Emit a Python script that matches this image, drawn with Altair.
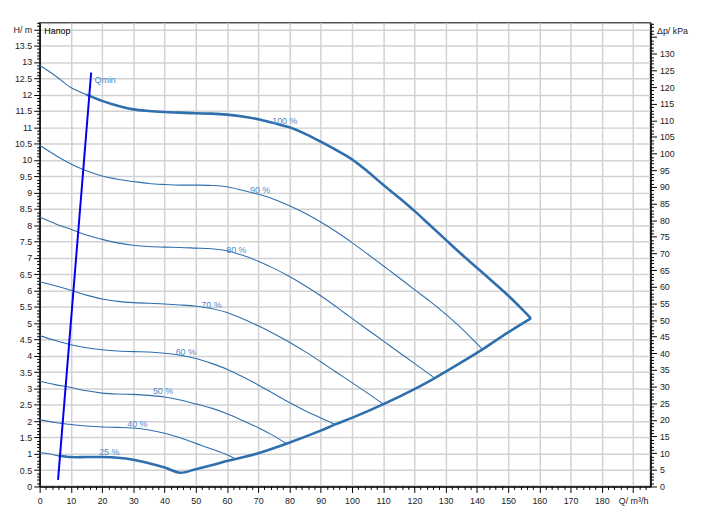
import altair as alt
import pandas as pd

# ---------------- data ----------------
Q100 = [0, 5, 10, 15, 20, 25, 30, 35, 40, 45, 50, 55, 60, 65, 70, 75, 80, 85, 90, 95, 100, 105, 110, 115, 120, 125, 130, 135, 140, 145, 150, 155, 157.3]
H100 = [12.9, 12.58, 12.22, 12.0, 11.81, 11.66, 11.55, 11.5, 11.47, 11.45, 11.43, 11.42, 11.39, 11.33, 11.25, 11.13, 11.0, 10.8, 10.56, 10.3, 10.02, 9.65, 9.24, 8.85, 8.44, 8.0, 7.56, 7.12, 6.7, 6.28, 5.85, 5.38, 5.15]

Q90 = [0, 5, 10, 15, 20, 25, 30, 35, 40, 45, 50, 55, 60, 65, 70, 75, 80, 85, 90, 95, 100, 105, 110, 115, 120, 125, 130, 135, 141.8]
H90 = [10.45, 10.15, 9.88, 9.67, 9.51, 9.41, 9.34, 9.28, 9.25, 9.23, 9.23, 9.22, 9.18, 9.07, 8.95, 8.8, 8.6, 8.37, 8.1, 7.8, 7.47, 7.12, 6.76, 6.4, 6.03, 5.67, 5.28, 4.85, 4.2]

Q80 = [0, 5, 10, 15, 20, 25, 30, 35, 40, 45, 50, 55, 60, 65, 70, 75, 80, 85, 90, 95, 100, 105, 110, 115, 120, 126.5]
H80 = [8.25, 8.05, 7.88, 7.7, 7.57, 7.46, 7.39, 7.35, 7.33, 7.32, 7.3, 7.28, 7.22, 7.08, 6.9, 6.68, 6.43, 6.15, 5.84, 5.5, 5.15, 4.8, 4.46, 4.11, 3.77, 3.32]

Q70 = [0, 5, 10, 15, 20, 25, 30, 35, 40, 45, 50, 55, 60, 65, 70, 75, 80, 85, 90, 95, 100, 105, 110.1]
H70 = [6.27, 6.15, 6.01, 5.86, 5.74, 5.67, 5.63, 5.61, 5.59, 5.56, 5.52, 5.45, 5.33, 5.14, 4.92, 4.68, 4.42, 4.13, 3.82, 3.5, 3.18, 2.86, 2.52]

Q60 = [0, 5, 10, 15, 20, 25, 30, 35, 40, 45, 50, 55, 60, 65, 70, 75, 80, 85, 90, 94.6]
H60 = [4.62, 4.47, 4.34, 4.25, 4.19, 4.15, 4.13, 4.12, 4.08, 4.02, 3.92, 3.77, 3.59, 3.36, 3.11, 2.84, 2.57, 2.32, 2.1, 1.9]

Q50 = [0, 5, 10, 15, 20, 25, 30, 35, 40, 45, 50, 55, 60, 65, 70, 75, 79]
H50 = [3.22, 3.12, 3.03, 2.93, 2.86, 2.83, 2.82, 2.79, 2.74, 2.65, 2.53, 2.4, 2.23, 2.02, 1.8, 1.55, 1.31]

Q40 = [0, 5, 10, 15, 20, 25, 30, 35, 40, 45, 50, 55, 60, 62.7]
H40 = [2.04, 1.96, 1.9, 1.85, 1.82, 1.81, 1.79, 1.73, 1.63, 1.49, 1.32, 1.15, 0.97, 0.84]

Q25 = [0, 3, 6, 10, 15, 20, 25, 30, 35, 40, 45]
H25 = [1.04, 1.0, 0.94, 0.9, 0.9, 0.9, 0.88, 0.82, 0.71, 0.58, 0.42]

# end-of-curve boundary (max flow line)
QB = [45, 50, 55, 60, 62.7, 70, 79, 90, 94.6, 100, 110.1, 120, 126.5, 135, 141.8, 150, 157.3]
HB = [0.42, 0.53, 0.65, 0.78, 0.84, 1.02, 1.31, 1.71, 1.9, 2.1, 2.52, 2.98, 3.32, 3.8, 4.2, 4.72, 5.15]

# Qmin line
QMIN_Q = [5.9, 16.5]
QMIN_H = [0.2, 12.68]

curve_names = ["100 %", "90 %", "80 %", "70 %", "60 %", "50 %", "40 %", "25 %"]
label_Q = [78.5, 70.6, 63.0, 55.0, 46.8, 39.5, 31.3, 22.3]
label_H = [11.18, 9.09, 7.24, 5.55, 4.13, 2.92, 1.92, 1.04]

X_MAX = 195.6
H_MAX = 14.2
KPA_MAX = 139.3

# ---------------- tables ----------------
series = [(Q100, H100), (Q90, H90), (Q80, H80), (Q70, H70), (Q60, H60), (Q50, H50), (Q40, H40), (Q25, H25)]
rows = []
for name, (qs, hs) in zip(curve_names, series):
    for i, (q, h) in enumerate(zip(qs, hs)):
        rows.append({"curve": name, "Q": q, "H": h, "o": i})
thin_df = pd.DataFrame(rows)

# thick operating-range outline: (a) 25 % from Qmin + end boundary, (b) 100 % from Qmin
env_rows = []
k = 0
for q, h in zip(Q25, H25):
    if q >= 6:
        env_rows.append({"seg": "low", "Q": q, "H": h, "o": k}); k += 1
for q, h in zip(QB[1:], HB[1:]):
    env_rows.append({"seg": "low", "Q": q, "H": h, "o": k}); k += 1
for q, h in zip(Q100, H100):
    if q >= 15:
        env_rows.append({"seg": "top", "Q": q, "H": h, "o": k}); k += 1
env_df = pd.DataFrame(env_rows)

qmin_df = pd.DataFrame({"Q": QMIN_Q, "H": QMIN_H})
lab_df = pd.DataFrame({"Q": label_Q, "H": label_H, "t": curve_names})
extra_df = pd.DataFrame({"Q": [17.6, 1.5], "H": [12.45, 13.94], "t": ["Qmin", "Напор"],
                         "c": ["#4f8ac9", "#000000"]})
kpa_df = pd.DataFrame({"kpa": [0, KPA_MAX]})

# ---------------- scales / axes ----------------
FONT = "Liberation Sans"
xs = alt.Scale(domain=[0, X_MAX], nice=False, zero=False)
ys = alt.Scale(domain=[0, H_MAX], nice=False, zero=False)

x_vals = list(range(0, 196, 2))
y_vals = [round(i * 0.1, 1) for i in range(0, 143)]
k_vals = list(range(0, 140))

half = "abs(datum.value*2 - round(datum.value*2)) < 0.001"

x_axis = alt.Axis(
    values=x_vals, title=None, orient="bottom",
    labelExpr="datum.value == 190 ? 'Q/ m³/h' : (datum.value % 10 == 0 && datum.value <= 180 ? format(datum.value, 'd') : '')",
    tickSize={"condition": {"test": "datum.value % 10 == 0", "value": 6}, "value": 3},
    gridOpacity={"condition": {"test": "datum.value % 10 == 0", "value": 1}, "value": 0},
    grid=True, labelOverlap=False, labelBound=False, labelFlush=False, labelPadding=4,
)
y_axis = alt.Axis(
    values=y_vals, title=None, orient="left",
    labelExpr="datum.value == 14 ? 'H/ m' : (" + half + " ? format(datum.value, '~g') : '')",
    tickSize={"condition": {"test": half, "value": 6}, "value": 3},
    gridOpacity={"condition": {"test": half, "value": 1}, "value": 0},
    grid=True, labelOverlap=False, labelBound=False, labelFlush=False, labelPadding=2,
)
k_axis = alt.Axis(
    values=k_vals, title=None, orient="right", grid=False,
    labelExpr="datum.value == 137 ? 'Δp/ kPa' : (datum.value % 5 == 0 && datum.value <= 130 ? format(datum.value, 'd') : '')",
    tickSize={"condition": {"test": "datum.value % 5 == 0", "value": 6}, "value": 3},
    labelOverlap=False, labelBound=False, labelFlush=False, labelPadding=3,
)

LINE = "#2f6fae"
X = alt.X("Q:Q", scale=xs, axis=x_axis)
Y = alt.Y("H:Q", scale=ys, axis=y_axis)

thin = alt.Chart(thin_df).mark_line(color=LINE, strokeWidth=1.1, interpolate="catmull-rom").encode(
    x=X, y=Y, detail="curve:N", order="o:Q",
)
thick = alt.Chart(env_df).mark_line(color=LINE, strokeWidth=2.6, interpolate="catmull-rom").encode(
    x=X, y=Y, detail="seg:N", order="o:Q",
)
qmin = alt.Chart(qmin_df).mark_line(color="#0000ee", strokeWidth=2).encode(x=X, y=Y)
labels = alt.Chart(lab_df).mark_text(font=FONT, fontSize=9, color="#4f8ac9", align="center", baseline="middle").encode(
    x=X, y=Y, text="t:N",
)
extras = alt.Chart(extra_df).mark_text(font=FONT, fontSize=9, align="left", baseline="middle").encode(
    x=X, y=Y, text="t:N", color=alt.Color("c:N", scale=None),
)

main = alt.layer(thin, thick, qmin, labels, extras)

kpa = alt.Chart(kpa_df).mark_point(opacity=0).encode(
    y=alt.Y("kpa:Q", scale=alt.Scale(domain=[0, KPA_MAX], nice=False, zero=False), axis=k_axis),
)

chart = alt.layer(main, kpa).resolve_scale(y="independent").properties(
    width=618, height=469,
    padding={"left": 32, "top": 12, "right": 46, "bottom": 40},
    autosize=alt.AutoSizeParams(type="none"),
    background="white",
).configure_view(
    stroke="#555555", strokeWidth=1.5,
).configure_axis(
    labelFont=FONT, labelFontSize=9, labelColor="#222222",
    domainColor="#000000", domainWidth=1.5,
    tickColor="#000000", tickWidth=1,
    gridColor="#d2d2d2", gridWidth=1.5,
)

chart.save("out.html", embed_options={"renderer": "svg", "actions": False})
